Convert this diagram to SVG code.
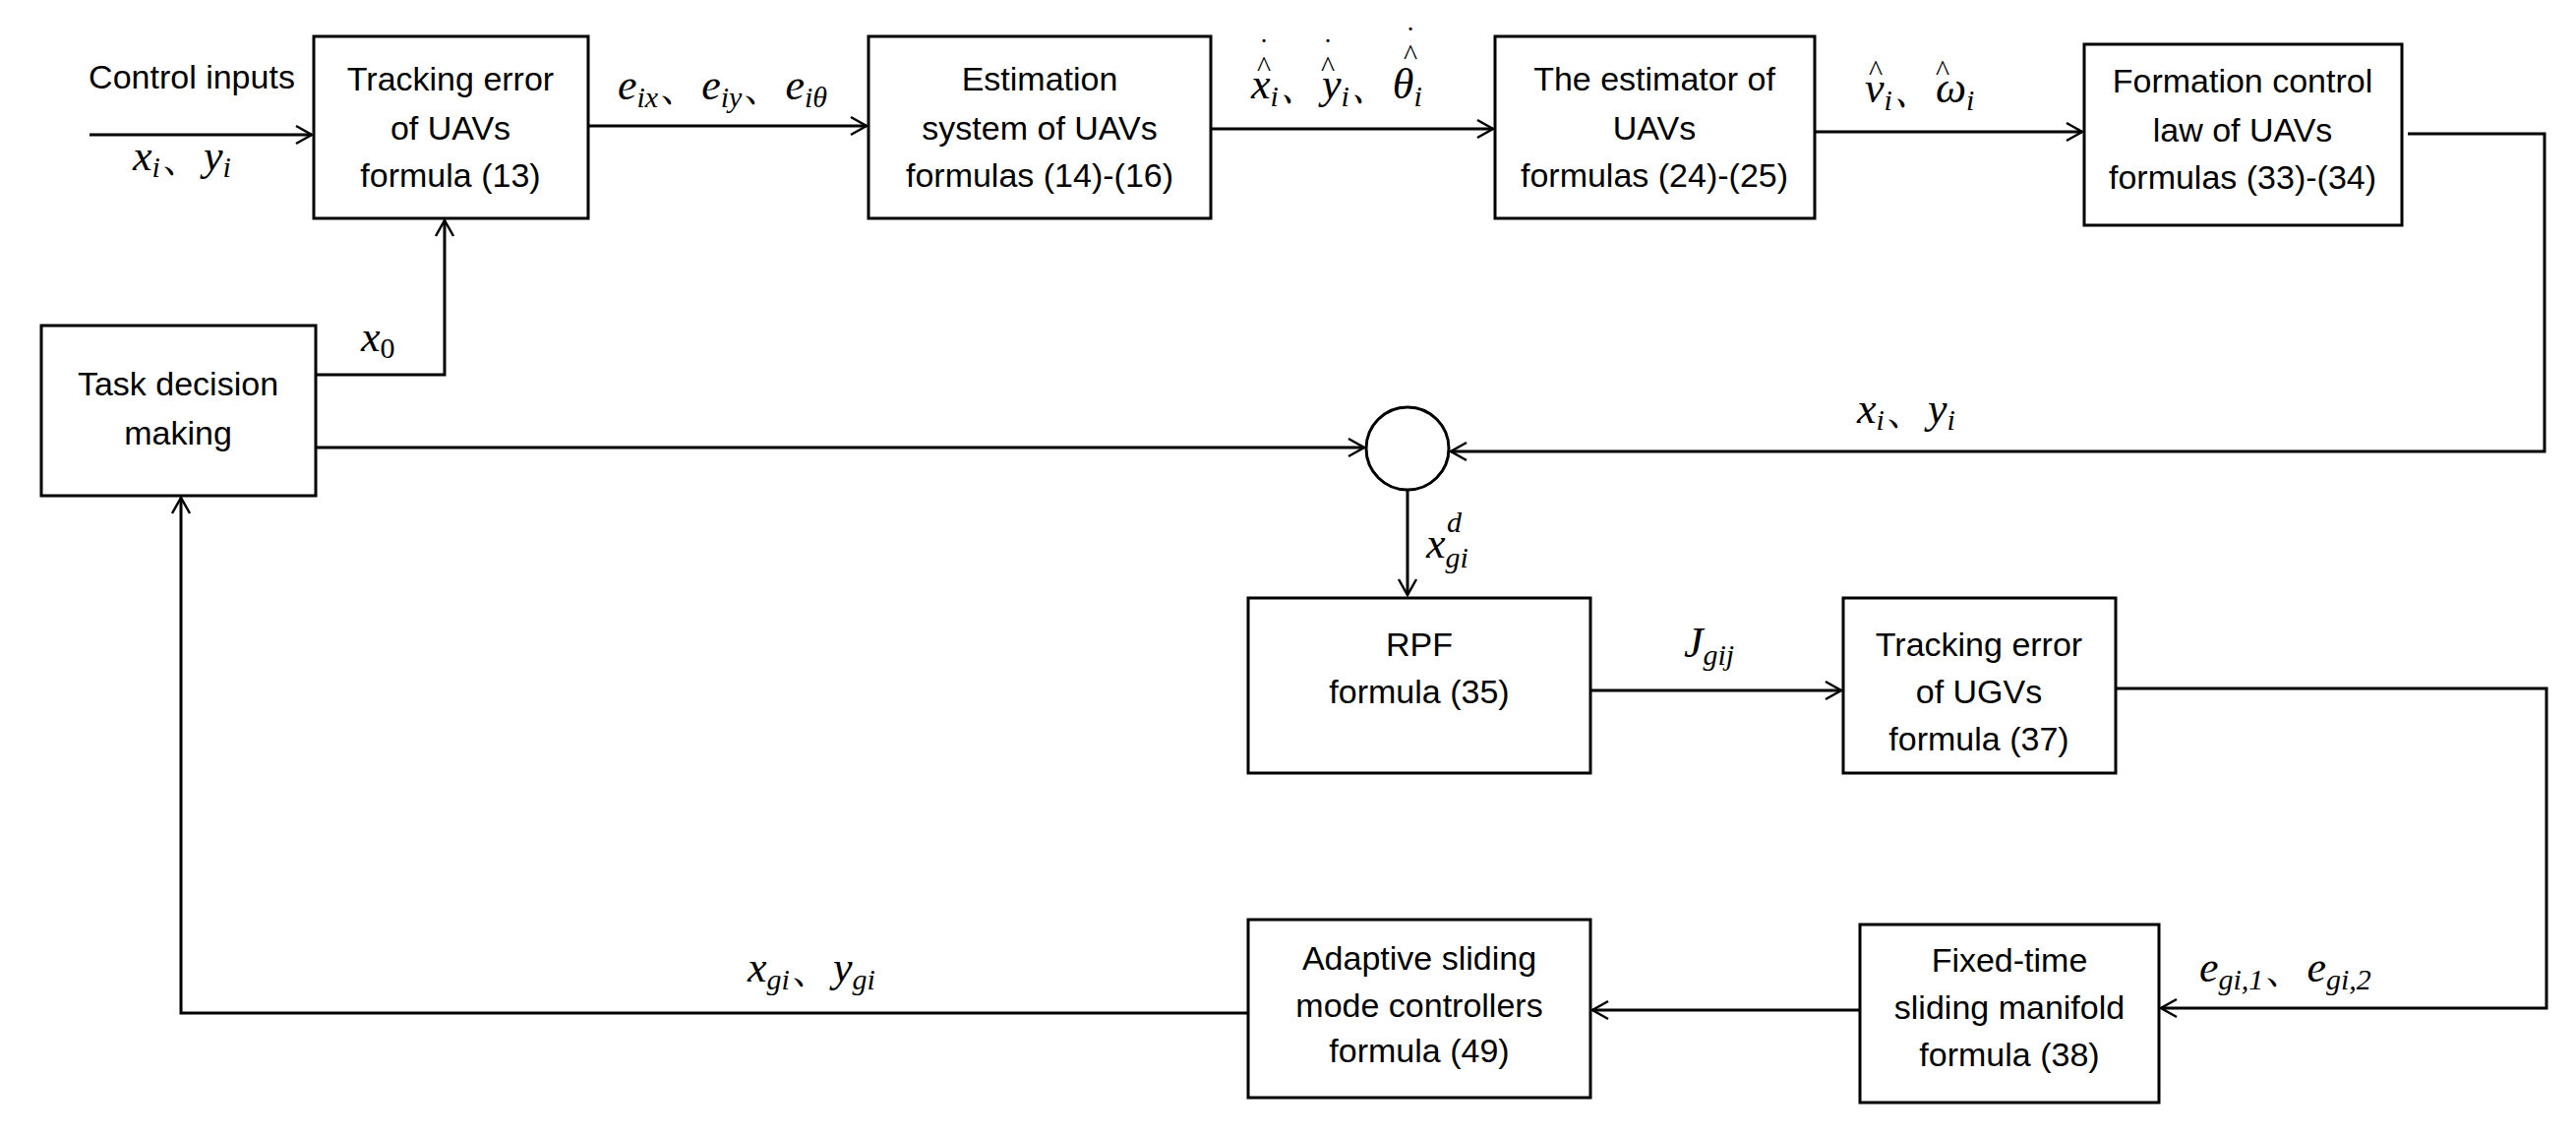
<svg xmlns="http://www.w3.org/2000/svg" width="2619" height="1154" viewBox="0 0 2619 1154">
<style>
.b{fill:#fff;stroke:#000;stroke-width:3}
.t{font-family:"Liberation Sans",Arial,sans-serif;font-size:34px;text-anchor:middle;fill:#000}
.m{font-family:"Liberation Serif","Times New Roman",serif;font-style:italic;font-size:44px;fill:#000}
.s{font-size:30px}
.ac{font-family:"Liberation Serif","Times New Roman",serif;font-size:30px;fill:#000;text-anchor:middle}
.c{fill:none;stroke:#000;stroke-width:3}
</style>
<defs><marker id="a" markerWidth="24" markerHeight="24" refX="20" refY="12" orient="auto" markerUnits="userSpaceOnUse"><path d="M4,3 L20,12 L4,21" fill="none" stroke="#000" stroke-width="2.5"/></marker></defs>
<g id="connectors">
<path class="c" d="M91,137 H317" marker-end="url(#a)"/>
<path class="c" d="M598,128 H881" marker-end="url(#a)"/>
<path class="c" d="M1231,131 H1518" marker-end="url(#a)"/>
<path class="c" d="M1845,134 H2117" marker-end="url(#a)"/>
<path class="c" d="M2448,136 H2587 V459 H1475" marker-end="url(#a)"/>
<path class="c" d="M321,455 H1387" marker-end="url(#a)"/>
<path class="c" d="M321,381 H452 V224" marker-end="url(#a)"/>
<path class="c" d="M1431,499 V605" marker-end="url(#a)"/>
<path class="c" d="M1617,702 H1872" marker-end="url(#a)"/>
<path class="c" d="M2151,700 H2589 V1025 H2197" marker-end="url(#a)"/>
<path class="c" d="M1891,1027 H1619" marker-end="url(#a)"/>
<path class="c" d="M1269,1030 H184 V506" marker-end="url(#a)"/>
</g>
<g id="n1"><rect class="b" x="319" y="37" width="279" height="185"/><text class="t" x="458" y="92">Tracking error</text><text class="t" x="458" y="142">of UAVs</text><text class="t" x="458" y="190">formula (13)</text></g>
<g id="n2"><rect class="b" x="883" y="37" width="348" height="185"/><text class="t" x="1057" y="92">Estimation</text><text class="t" x="1057" y="142">system of UAVs</text><text class="t" x="1057" y="190">formulas (14)-(16)</text></g>
<g id="n3"><rect class="b" x="1520" y="37" width="325" height="185"/><text class="t" x="1682" y="92">The estimator of</text><text class="t" x="1682" y="142">UAVs</text><text class="t" x="1682" y="190">formulas (24)-(25)</text></g>
<g id="n4"><rect class="b" x="2119" y="45" width="323" height="184"/><text class="t" x="2280" y="94">Formation control</text><text class="t" x="2280" y="144">law of UAVs</text><text class="t" x="2280" y="192">formulas (33)-(34)</text></g>
<g id="n5"><rect class="b" x="42" y="331" width="279" height="173"/><text class="t" x="181" y="402">Task decision</text><text class="t" x="181" y="452">making</text></g>
<g id="n6"><circle class="b" cx="1431" cy="456" r="42"/></g>
<g id="n7"><rect class="b" x="1269" y="608" width="348" height="178"/><text class="t" x="1443" y="667">RPF</text><text class="t" x="1443" y="715">formula (35)</text></g>
<g id="n8"><rect class="b" x="1874" y="608" width="277" height="178"/><text class="t" x="2012" y="667">Tracking error</text><text class="t" x="2012" y="715">of UGVs</text><text class="t" x="2012" y="763">formula (37)</text></g>
<g id="n9"><rect class="b" x="1269" y="935" width="348" height="181"/><text class="t" x="1443" y="986">Adaptive sliding</text><text class="t" x="1443" y="1034">mode controllers</text><text class="t" x="1443" y="1080">formula (49)</text></g>
<g id="n10"><rect class="b" x="1891" y="940" width="304" height="181"/><text class="t" x="2043" y="988">Fixed-time</text><text class="t" x="2043" y="1036">sliding manifold</text><text class="t" x="2043" y="1084">formula (38)</text></g>
<g id="labels">
<text class="t" x="195" y="90">Control inputs</text>
<text class="m" x="135" y="173">x<tspan class="s" dy="7">i</tspan><tspan dy="-7" font-style="normal">、</tspan>y<tspan class="s" dy="7">i</tspan></text>
<text class="m" x="628" y="101">e<tspan class="s" dy="8">ix</tspan><tspan dy="-8" font-style="normal">、</tspan>e<tspan class="s" dy="8">iy</tspan><tspan dy="-8" font-style="normal">、</tspan>e<tspan class="s" dy="8">iθ</tspan></text>
<text class="m" x="1272" y="100" font-style="normal">x<tspan class="s" dy="8" font-style="italic">i</tspan><tspan dy="-8">、</tspan>y<tspan class="s" dy="8" font-style="italic">i</tspan><tspan dy="-8">、</tspan><tspan font-style="italic">θ</tspan><tspan class="s" dy="8" font-style="italic">i</tspan></text>
<text class="ac" x="1285" y="78">^</text><text class="ac" x="1285" y="60">˙</text>
<text class="ac" x="1350" y="78">^</text><text class="ac" x="1350" y="60">˙</text>
<text class="ac" x="1434" y="66">^</text><text class="ac" x="1434" y="48">˙</text>
<text class="m" x="1896" y="104" font-style="normal">v<tspan class="s" dy="8" font-style="italic">i</tspan><tspan dy="-8">、</tspan><tspan font-style="italic">ω</tspan><tspan class="s" dy="8" font-style="italic">i</tspan></text>
<text class="ac" x="1907" y="82">^</text><text class="ac" x="1975" y="82">^</text>
<text class="m" x="1888" y="430">x<tspan class="s" dy="7">i</tspan><tspan dy="-7" font-style="normal">、</tspan>y<tspan class="s" dy="7">i</tspan></text>
<text class="m" x="367" y="357">x<tspan class="s" dy="7" font-style="normal">0</tspan></text>
<text class="m" x="1450" y="567" font-style="normal">x<tspan class="s" dy="10" font-style="italic">gi</tspan><tspan class="s" dx="-22" dy="-36" font-style="italic">d</tspan></text>
<text class="m" x="1712" y="668">J<tspan class="s" dy="8">gij</tspan></text>
<text class="m" x="2236" y="998">e<tspan class="s" dy="8">gi,1</tspan><tspan dy="-8" font-style="normal">、</tspan>e<tspan class="s" dy="8">gi,2</tspan></text>
<text class="m" x="760" y="998">x<tspan class="s" dy="8">gi</tspan><tspan dy="-8" font-style="normal">、</tspan>y<tspan class="s" dy="8">gi</tspan></text>
</g>
</svg>
